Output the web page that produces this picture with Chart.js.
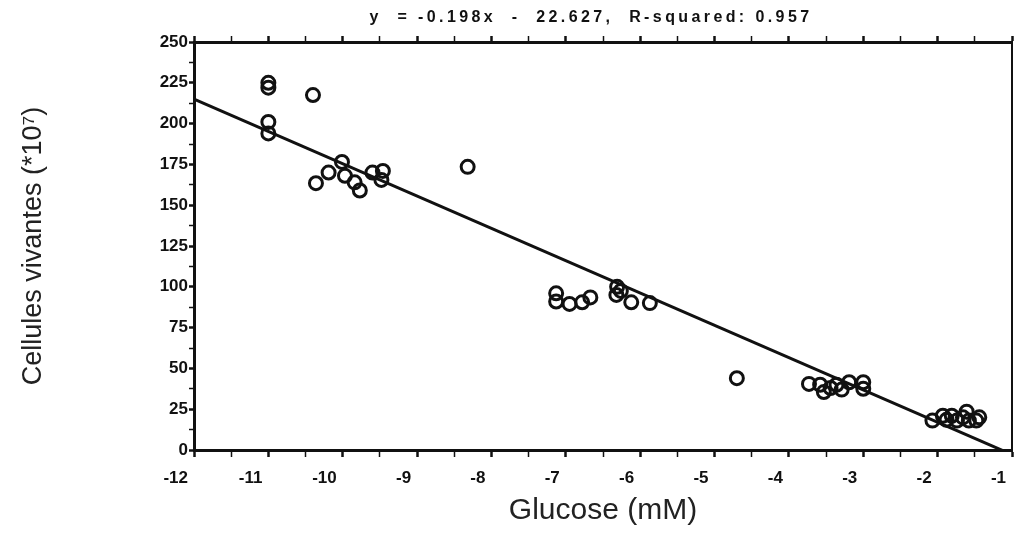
<!DOCTYPE html>
<html>
<head>
<meta charset="utf-8">
<title>Cellules vivantes vs Glucose</title>
<script src="https://cdn.jsdelivr.net/npm/chart.js@4.4.0/dist/chart.umd.min.js"></script>
<style>
    body { margin: 0; background: #fff; }
    #wrap { width: 1016px; height: 533px; }
</style>
</head>
<body>
<div id="wrap"><canvas id="glucoseChart" width="1016" height="533"></canvas></div>
<script>
// Measured points (glucose mM, living cells *10^7)
const glucose = [
    -11.0, -11.0, -11.0, -11.0, -10.4,
    -10.36, -10.19, -10.01, -9.97, -9.84, -9.77, -9.6, -9.46, -9.48,
    -8.32,
    -7.13, -7.13, -6.95, -6.78, -6.67,
    -6.31, -6.32, -6.26, -6.12, -5.87,
    -4.70,
    -3.73, -3.58, -3.53, -3.44, -3.36, -3.29, -3.19, -3.0, -3.0,
    -2.07, -1.93, -1.88, -1.81, -1.74, -1.66, -1.61, -1.58, -1.48, -1.44
];
const cells = [
    225, 222, 201, 194, 217.5,
    163.5, 170, 176.5, 168, 164, 159, 170, 171, 165.5,
    173.5,
    96, 91, 89.5, 90.5, 93.5,
    100, 95, 97.5, 90.5, 90,
    44,
    40.5, 40, 35.5, 38, 40, 37, 41.5, 41.5, 37.5,
    18, 21, 18.5, 21, 18, 20, 23.5, 18, 18, 20
];

// Regression line end points: y = -19.8x - 22.627
const fitX = [-12, -1];
const fitY = [215, -2.8];

const titleText = 'y  = -0.198x  -  22.627,  R-squared: 0.957';
const xTitle = 'Glucose (mM)';
const yTitle = 'Cellules vivantes (*10\u2077)';

const FONT = "'Liberation Sans', Arial, Helvetica, sans-serif";

document.addEventListener('DOMContentLoaded', function() {
    initChart();
});

/**
 * Title above the plot (wide letter spacing like the original print)
 */
const topTitle = {
    id: 'topTitle',
    afterDraw(chart) {
        const ctx = chart.ctx;
        const area = chart.chartArea;
        ctx.save();
        ctx.font = 'bold 16px ' + FONT;
        ctx.letterSpacing = '3.4px';
        ctx.fillStyle = '#111';
        ctx.textAlign = 'center';
        ctx.textBaseline = 'middle';
        ctx.fillText(titleText, (area.left + area.right) / 2 - 12, 18);
        ctx.restore();
    }
};

function tickWidth(ctx) {
    return ctx.tick && Number.isInteger(ctx.tick.value / (ctx.scale.axis === 'x' ? 1 : 25)) ? 2.5 : 1.5;
}

// keep the plot frame where the original has it
function fitHeight(h) {
    return function(s) {
        s.height = h;
        s.paddingLeft = 0;
        s.paddingRight = 0;
    };
}

function initChart() {
    const points = glucose.map((g, i) => ({ x: g, y: cells[i] }));
    const line = fitX.map((g, i) => ({ x: g, y: fitY[i] }));

    new Chart(document.getElementById('glucoseChart'), {
        type: 'scatter',
        data: {
            datasets: [{
                data: points,
                pointRadius: 6.5,
                pointHoverRadius: 6.5,
                pointBorderWidth: 3,
                borderColor: '#111',
                backgroundColor: 'rgba(0,0,0,0)'
            }, {
                data: line,
                showLine: true,
                pointRadius: 0,
                borderWidth: 3,
                borderColor: '#111'
            }]
        },
        options: {
            responsive: false,
            animation: false,
            layout: { padding: 0, autoPadding: false },
            plugins: {
                legend: { display: false },
                tooltip: { enabled: false }
            },
            scales: {
                x: {
                    type: 'linear',
                    position: 'bottom',
                    min: -12,
                    max: -1,
                    afterFit: fitHeight(83),
                    border: { color: '#111', width: 3 },
                    grid: {
                        drawOnChartArea: false,
                        tickLength: 7,
                        tickColor: '#111',
                        tickWidth: tickWidth
                    },
                    ticks: {
                        stepSize: 0.5,
                        autoSkip: false,
                        maxRotation: 0,
                        align: 'end',
                        labelOffset: -6,
                        padding: 11,
                        color: '#111',
                        font: { family: FONT, size: 17, weight: 'bold' },
                        callback: v => Number.isInteger(v) ? String(v) : ''
                    },
                    title: {
                        display: true,
                        text: xTitle,
                        color: '#222',
                        font: { family: FONT, size: 30 },
                        padding: { top: 4 }
                    }
                },
                x2: {
                    type: 'linear',
                    position: 'top',
                    min: -12,
                    max: -1,
                    afterFit: fitHeight(42),
                    border: { color: '#111', width: 3 },
                    grid: {
                        drawOnChartArea: false,
                        tickLength: 6,
                        tickColor: '#111',
                        tickWidth: tickWidth
                    },
                    ticks: { stepSize: 0.5, display: false }
                },
                y: {
                    type: 'linear',
                    position: 'left',
                    min: 0,
                    max: 250,
                    afterFit: s => { s.width = 194; },
                    border: { color: '#111', width: 3 },
                    grid: {
                        drawOnChartArea: false,
                        tickLength: 5,
                        tickColor: '#111',
                        tickWidth: tickWidth
                    },
                    ticks: {
                        stepSize: 12.5,
                        autoSkip: false,
                        padding: 1,
                        color: '#111',
                        font: { family: FONT, size: 17, weight: 'bold' },
                        callback: v => v % 25 === 0 ? String(v) : ''
                    },
                    title: {
                        display: true,
                        text: yTitle,
                        color: '#222',
                        font: { family: FONT, size: 27 },
                        padding: { top: 17 }
                    }
                },
                y2: {
                    type: 'linear',
                    position: 'right',
                    min: 0,
                    max: 250,
                    afterFit: s => { s.width = 4; },
                    border: { color: '#111', width: 2 },
                    grid: { display: false, drawTicks: false },
                    ticks: { display: false }
                }
            }
        },
        plugins: [topTitle]
    });
}
</script>
</body>
</html>
